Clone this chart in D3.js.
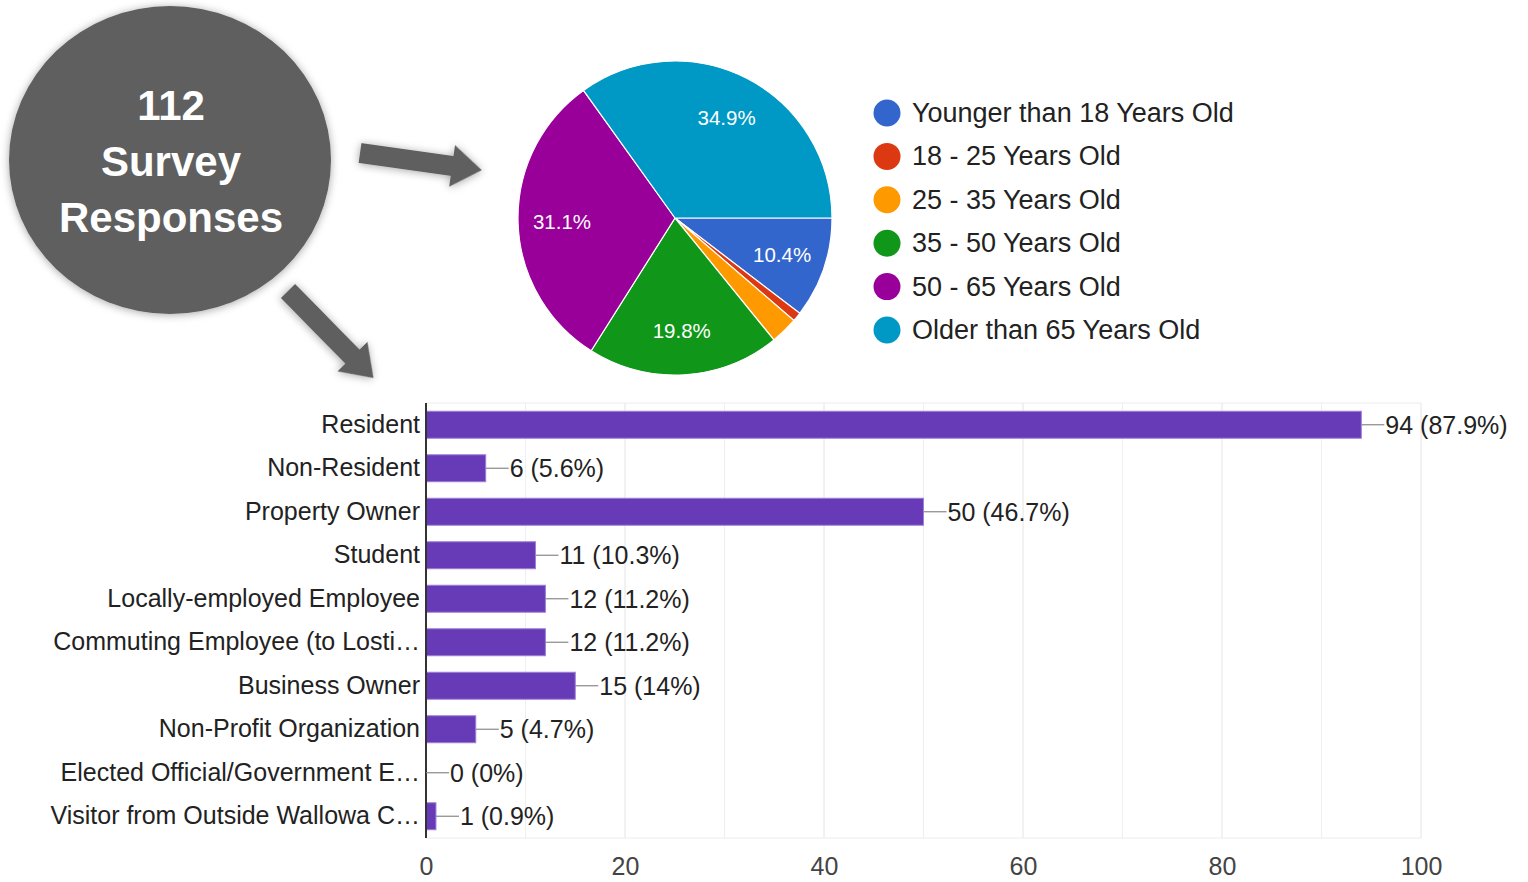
<!DOCTYPE html>
<html lang="en">
<head>
	<meta charset="UTF-8">
	<title>112 Survey Responses</title>
	<script src="https://d3js.org/d3.v7.min.js"></script>
	<style>
		body { margin: 0; background: #fff; }
		text { font-family: "Liberation Sans", Arial, sans-serif; }
	</style>
</head>
<body>
	<script type="text/javascript">
		// age question (pie)
		const ageGroups = ["Younger than 18 Years Old", "18 - 25 Years Old", "25 - 35 Years Old",
			"35 - 50 Years Old", "50 - 65 Years Old", "Older than 65 Years Old"];
		const ageCounts = [11, 1, 3, 21, 33, 37];
		const ageColors = ["#3366cc", "#dc3912", "#ff9900", "#109618", "#990099", "#0099c6"];

		// role question (bars)
		const roles = ["Resident", "Non-Resident", "Property Owner", "Student", "Locally-employed Employee",
			"Commuting Employee (to Losti\u2026", "Business Owner", "Non-Profit Organization",
			"Elected Official/Government E\u2026", "Visitor from Outside Wallowa C\u2026"];
		const roleCounts = [94, 6, 50, 11, 12, 12, 15, 5, 0, 1];
		const rolePercents = ["87.9%", "5.6%", "46.7%", "10.3%", "11.2%", "11.2%", "14%", "4.7%", "0%", "0.9%"];
		const xTicks = [0, 20, 40, 60, 80, 100];

		const totalResponses = 112;

		const width = 1528;
		const height = 882;

		const svg = d3.select("body")
			.append("svg")
			.attr("width", width)
			.attr("height", height);

		const defs = svg.append("defs");
		const shadow = defs.append("filter")
			.attr("id", "shadow")
			.attr("x", "-20%").attr("y", "-20%")
			.attr("width", "140%").attr("height", "140%");
		shadow.append("feDropShadow")
			.attr("dx", 0).attr("dy", 1)
			.attr("stdDeviation", 4)
			.attr("flood-color", "#000")
			.attr("flood-opacity", 0.35);

		// big circle
		const badge = svg.append("g").attr("transform", "translate(170,160)");
		badge.append("ellipse")
			.attr("rx", 161)
			.attr("ry", 154)
			.attr("fill", "#5f5f5f")
			.attr("filter", "url(#shadow)");
		badge.selectAll("text")
			.data([totalResponses, "Survey", "Responses"])
			.enter()
			.append("text")
			.attr("x", 1)
			.attr("y", (d, i) => -40 + i * 56)
			.attr("text-anchor", "middle")
			.attr("fill", "#fff")
			.attr("font-weight", "bold")
			.attr("font-size", "42px")
			.text((d) => d);

		// arrows
		function arrow(x, y, angle, len) {
			const g = svg.append("g")
				.attr("transform", "translate(" + x + "," + y + ") rotate(" + angle + ")")
				.attr("filter", "url(#shadow)");
			g.append("path")
				.attr("d", "M0,-10 L" + (len - 30) + ",-10 L" + (len - 30) + ",-21 L" + len + ",0 L" +
					(len - 30) + ",21 L" + (len - 30) + ",10 L0,10 Z")
				.attr("fill", "#5f5f5f");
		}
		arrow(360, 153, 8, 123);
		arrow(288, 291, 45.5, 122);

		// pie
		const pieR = 157;
		const pieG = svg.append("g").attr("transform", "translate(675,218)");
		const pie = d3.pie()
			.sort(null)
			.startAngle(Math.PI / 2)
			.endAngle(Math.PI / 2 + 2 * Math.PI);
		const arc = d3.arc().innerRadius(0).outerRadius(pieR);
		const labelArc = d3.arc().innerRadius(pieR * 0.72).outerRadius(pieR * 0.72);
		const arcs = pie(ageCounts);
		const ageTotal = d3.sum(ageCounts);

		pieG.selectAll("path")
			.data(arcs)
			.enter()
			.append("path")
			.attr("d", arc)
			.attr("fill", (d, i) => ageColors[i])
			.attr("stroke", "#fff")
			.attr("stroke-width", 1.2);

		pieG.selectAll("text")
			.data(arcs.filter((d) => d.data / ageTotal > 0.05))
			.enter()
			.append("text")
			.attr("transform", (d) => "translate(" + labelArc.centroid(d) + ")")
			.attr("text-anchor", "middle")
			.attr("dominant-baseline", "central")
			.attr("fill", "#fff")
			.attr("font-size", "20.5px")
			.text((d) => (d.data / ageTotal * 100).toFixed(1) + "%");

		// legend
		const legendY = d3.scalePoint().domain(ageGroups).range([113, 330]);
		const legend = svg.append("g");
		legend.selectAll("circle")
			.data(ageGroups)
			.enter()
			.append("circle")
			.attr("cx", 887)
			.attr("cy", (d) => legendY(d))
			.attr("r", 13.5)
			.attr("fill", (d, i) => ageColors[i]);
		legend.selectAll("text")
			.data(ageGroups)
			.enter()
			.append("text")
			.attr("x", 912)
			.attr("y", (d) => legendY(d))
			.attr("dominant-baseline", "central")
			.attr("fill", "#222")
			.attr("font-size", "27px")
			.text((d) => d);

		// bars
		const plotLeft = 426, plotRight = 1421, plotTop = 403, plotBottom = 838;
		const xScale = d3.scaleLinear().domain([0, 100]).range([plotLeft, plotRight]);
		const yScale = d3.scaleBand()
			.domain(roles)
			.range([plotTop, plotBottom])
			.paddingInner(0.38)
			.paddingOuter(0.19);

		const grid = svg.append("g");
		grid.selectAll("line.minor")
			.data(d3.range(10, 100, 20))
			.enter()
			.append("line")
			.attr("class", "minor")
			.attr("x1", (d) => xScale(d)).attr("x2", (d) => xScale(d))
			.attr("y1", plotTop).attr("y2", plotBottom)
			.attr("stroke", "#efefef");
		grid.selectAll("line.major")
			.data(xTicks.slice(1))
			.enter()
			.append("line")
			.attr("class", "major")
			.attr("x1", (d) => xScale(d)).attr("x2", (d) => xScale(d))
			.attr("y1", plotTop).attr("y2", plotBottom)
			.attr("stroke", "#e4e4e4");
		grid.selectAll("line.h")
			.data([plotTop, plotBottom])
			.enter()
			.append("line")
			.attr("class", "h")
			.attr("x1", plotLeft).attr("x2", plotRight)
			.attr("y1", (d) => d).attr("y2", (d) => d)
			.attr("stroke", "#ececec");

		const xAxis = svg.append("g")
			.attr("transform", "translate(0," + (plotBottom + 28) + ")")
			.call(d3.axisBottom(xScale).tickValues(xTicks).tickSize(0).tickPadding(0));
		xAxis.select(".domain").remove();
		xAxis.selectAll("text")
			.attr("font-size", "25px")
			.attr("fill", "#444")
			.attr("dy", "0.35em")
			.style("font-family", "'Liberation Sans', Arial, sans-serif");

		svg.selectAll("rect.bar")
			.data(roleCounts)
			.enter()
			.append("rect")
			.attr("class", "bar")
			.attr("x", plotLeft)
			.attr("y", (d, i) => yScale(roles[i]))
			.attr("width", (d) => xScale(d) - plotLeft)
			.attr("height", yScale.bandwidth())
			.attr("fill", "#673ab7")
			.attr("stroke", (d) => d > 0 ? "#9c7fd6" : "none")
			.attr("stroke-width", 1);

		const yAxis = svg.append("g")
			.attr("transform", "translate(" + plotLeft + ",0)")
			.call(d3.axisLeft(yScale).tickSize(0).tickPadding(6));
		yAxis.select(".domain").remove();
		yAxis.selectAll("text")
			.attr("font-size", "25px")
			.attr("fill", "#222")
			.style("font-family", "'Liberation Sans', Arial, sans-serif");

		svg.append("line")
			.attr("x1", plotLeft).attr("x2", plotLeft)
			.attr("y1", plotTop).attr("y2", plotBottom)
			.attr("stroke", "#333")
			.attr("stroke-width", 2);

		const valueLabels = svg.append("g");
		valueLabels.selectAll("line")
			.data(roleCounts)
			.enter()
			.append("line")
			.attr("x1", (d) => xScale(d))
			.attr("x2", (d) => xScale(d) + 23)
			.attr("y1", (d, i) => yScale(roles[i]) + yScale.bandwidth() / 2)
			.attr("y2", (d, i) => yScale(roles[i]) + yScale.bandwidth() / 2)
			.attr("stroke", "#888")
			.attr("stroke-width", 1.2);
		valueLabels.selectAll("text")
			.data(roleCounts)
			.enter()
			.append("text")
			.attr("x", (d) => xScale(d) + 24)
			.attr("y", (d, i) => yScale(roles[i]) + yScale.bandwidth() / 2)
			.attr("dominant-baseline", "central")
			.attr("font-size", "25px")
			.attr("fill", "#222")
			.text((d, i) => d + " (" + rolePercents[i] + ")");
	</script>
</body>
</html>
